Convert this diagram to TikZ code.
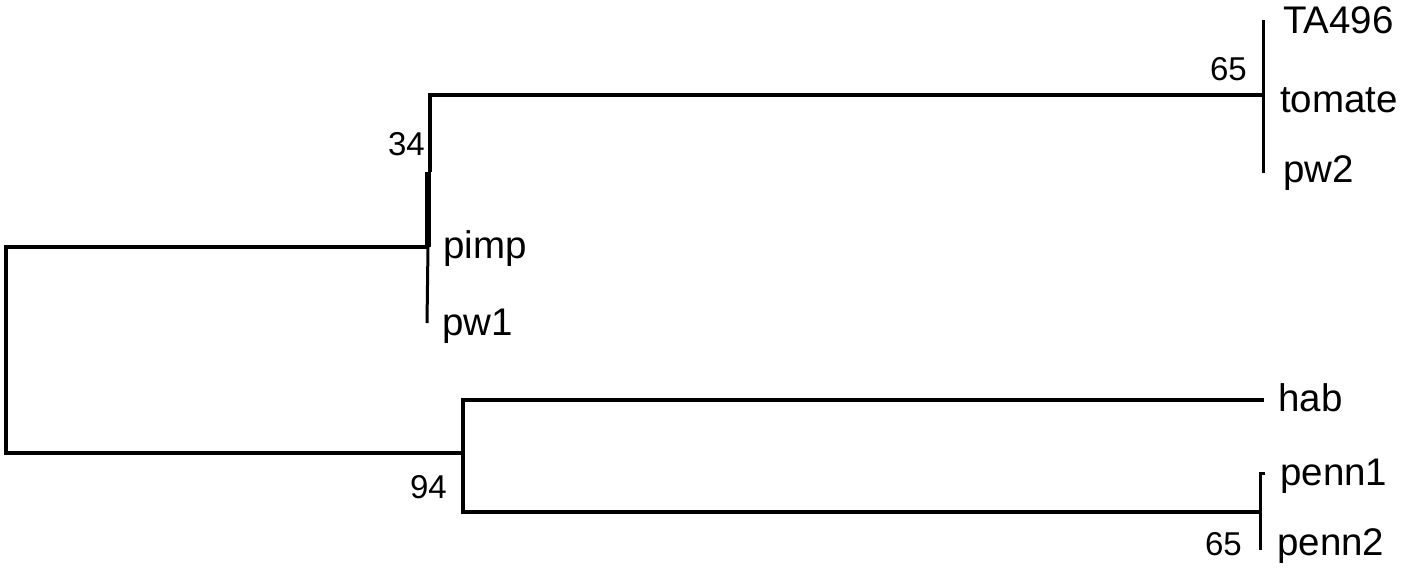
\documentclass[tikz,border=0pt]{standalone}
\usepackage{fontspec}
\setmainfont{Liberation Sans}
\begin{document}
\begin{tikzpicture}[x=1pt,y=-1pt,
  branch/.style={line width=3.5pt,line cap=butt,line join=miter},
  tipline/.style={line width=3pt},
  leaf/.style={anchor=base west,inner sep=0pt,font=\fontsize{38.5}{46}\selectfont},
  boot/.style={anchor=base east,inner sep=0pt,font=\fontsize{33}{40}\selectfont}]
\useasboundingbox (0,0) rectangle (1406,568);
% coordinates
\coordinate (rootT) at (6,247);
\coordinate (rootB) at (6,453);
\coordinate (nA) at (428,247);
\coordinate (nAtop) at (430,95);
\coordinate (nAmid) at (430,172);
\coordinate (nAbot) at (427,323);
\coordinate (nT) at (1263,95);
\coordinate (nTtop) at (1263,20);
\coordinate (nTbot) at (1263,173);
\coordinate (nB) at (463,453);
\coordinate (nBtop) at (463,400);
\coordinate (nBbot) at (463,512);
\coordinate (habE) at (1264,400);
\coordinate (nP) at (1260,512);
\coordinate (nPtop) at (1260,473);
\coordinate (nPtick) at (1265,473);
\coordinate (nPbot) at (1260,550);
% root
\draw[branch] (nA) -- (rootT) -- (rootB) -- (nB);
% upper clade
\draw[branch] (nT) -- (nAtop) -- (nAmid);
\draw[line width=5.5pt] (428,172) -- (nA);
\draw[tipline] (nA) -- (nAbot);
\draw[tipline] (nTtop) -- (nTbot);
% lower clade
\draw[branch] (habE) -- (nBtop) -- (nBbot) -- (nP);
\draw[tipline] (nPtick) -- (nPtop) -- (nPbot);
% leaves
\node[leaf] (TA) at (1283,33) {TA496};
\node[leaf] (tom) at (1280,112) {tomate};
\node[leaf] (pw2) at (1283,182) {pw2};
\node[leaf] (pimp) at (443,258) {pimp};
\node[leaf] (pw1) at (442,335) {pw1};
\node[leaf] (hab) at (1278,411) {hab};
\node[leaf] (penn1) at (1280,485) {penn1};
\node[leaf] (penn2) at (1277,555) {penn2};
% bootstrap values
\node[boot] (b65a) at (1247,80) {65};
\node[boot] (b34) at (425,155) {34};
\node[boot] (b94) at (447,498) {94};
\node[boot] (b65b) at (1242,555) {65};
\end{tikzpicture}
\end{document}
